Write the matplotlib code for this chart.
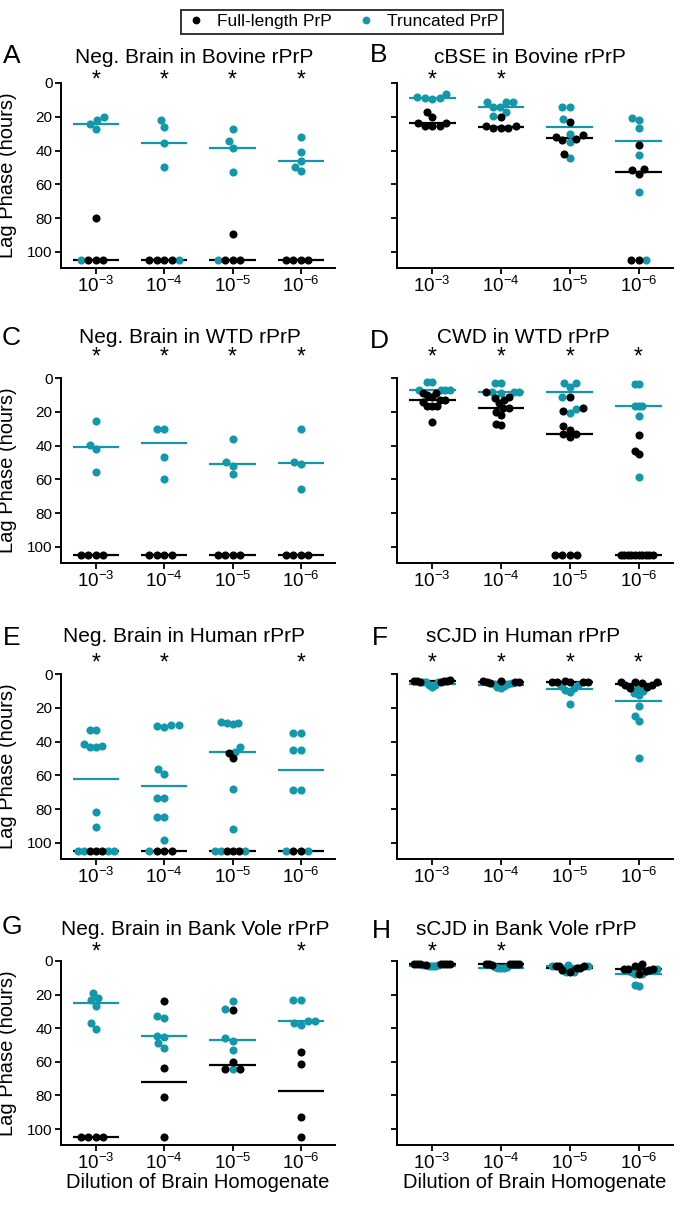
import numpy as np
import matplotlib.pyplot as plt
from matplotlib.lines import Line2D

plt.rcParams['font.family'] = ['Liberation Sans', 'DejaVu Sans']
plt.rcParams['mathtext.fontset'] = 'custom'
plt.rcParams['mathtext.rm'] = 'Liberation Sans'
plt.rcParams['mathtext.it'] = 'Liberation Sans:italic'
plt.rcParams['mathtext.default'] = 'regular'

ND = 105  # no lag phase reached within the run

dilutions = ['10$^{-3}$', '10$^{-4}$', '10$^{-5}$', '10$^{-6}$']
series_names = ['Full-length PrP', 'Truncated PrP']

titles = ['Neg. Brain in Bovine rPrP', 'cBSE in Bovine rPrP',
          'Neg. Brain in WTD rPrP', 'CWD in WTD rPrP',
          'Neg. Brain in Human rPrP', 'sCJD in Human rPrP',
          'Neg. Brain in Bank Vole rPrP', 'sCJD in Bank Vole rPrP']
letters = ['A', 'B', 'C', 'D', 'E', 'F', 'G', 'H']

# lag phase (hours), one list per dilution
a_full = [[80, ND, ND, ND], [ND, ND, ND, ND], [89.5, ND, ND, ND], [ND, ND, ND, ND]]
a_trunc = [[22, 20, 27, 24, ND], [22, 26, 35.5, 50, ND], [34.5, 27.5, 38.5, 52.5, ND],
           [32, 41, 49.5, 52, 46]]
a_stars = [1, 1, 1, 1]

b_full = [[17, 20, 23.5, 23.5, 25.5, 25.5, 25.5], [20, 25.5, 26.5, 26.5, 26.5, 25.5],
          [23, 31, 32, 33, 34, 42], [36.5, 51, 51.5, 54, ND, ND]]
b_trunc = [[6.5, 9, 9, 9.5, 8.5], [11.5, 11.5, 11.5, 14.5, 14.5, 17, 19.5],
           [14.5, 14.5, 21.5, 30, 35, 44.5], [20.5, 22, 26.5, 42.5, 64.5, ND]]
b_stars = [1, 1, 0, 0]

c_full = [[ND, ND, ND, ND], [ND, ND, ND, ND], [ND, ND, ND, ND], [ND, ND, ND, ND]]
c_trunc = [[25.5, 42, 39.5, 55.5], [30, 30, 46.5, 59.5], [36, 52, 49.5, 57], [30, 51, 50, 65.5]]
c_stars = [1, 1, 1, 1]

d_full = [[9, 9, 10, 11, 13, 13, 14, 16.5, 16.5, 16.5, 26],
          [8, 11, 12, 13, 15, 17.5, 18, 20, 22, 27, 28],
          [11.5, 17.5, 19.5, 28.5, 30.5, 33, 33, 35, ND, ND, ND, ND],
          [33.5, 45, 43.5, ND, ND, ND, ND, ND, ND, ND, ND, ND, ND]]
d_trunc = [[2.5, 2.5, 7, 7, 7, 7], [3, 3, 8, 8.5, 8.5, 9], [3, 3, 5.5, 11, 18.5, 21],
           [3.5, 3.5, 16.5, 16.5, 16.5, 22.5, 58.5]]
d_stars = [1, 1, 1, 1]

e_full = [[ND, ND, ND], [ND, ND, ND], [46.5, 50, ND, ND, ND], [ND, ND]]
e_trunc = [[33, 33, 41.5, 42.5, 43, 43, 81.5, 90.5, ND, ND, ND, ND],
           [30, 30, 31, 31.5, 56.5, 59, 73.5, 73.5, 84.5, 84.5, 98, ND],
           [28.5, 29, 29, 29.5, 43, 46, 68, 91.5, ND, ND, ND],
           [35, 35, 45, 45, 68.5, 68.5, ND, ND]]
e_stars = [1, 1, 0, 1]

f_full = [[3.5, 4, 4, 4, 4.5, 4, 4.5], [5, 4, 4, 4.5, 4.5, 5.5], [5, 5, 4, 4.5, 5, 4.5],
          [6.5, 5, 4.5, 6.5, 5.5, 8.5, 7.5, 5]]
f_trunc = [[5, 5, 6.5, 7.5, 6.5, 5], [7, 8.5, 7.5, 6, 6, 5.5], [9.5, 10.5, 8.5, 17.5, 7, 6.5],
           [8, 10, 11, 12.5, 19, 25, 28, 49.5]]
f_stars = [1, 1, 1, 1]

g_full = [[ND, ND, ND, ND], [24, 63.5, 81, ND], [29, 60, 64, 64], [54, 61.5, 93, ND]]
g_trunc = [[22, 19, 23.5, 27, 37, 40.5], [33, 34, 44.5, 45, 49, 51.5],
           [24, 28.5, 46, 47.5, 53, 64.5], [23, 23, 36, 37, 36, 38]]
g_stars = [1, 0, 0, 1]

h_full = [[1.5, 2, 2, 2, 2, 2, 2.5, 2], [2, 2, 2, 2.5, 2, 2, 2], [3, 4, 3, 5.5, 6.5, 3, 4],
          [3, 5.5, 8, 4.5, 2, 4.5, 3.5, 6, 5]]
h_trunc = [[2.5, 3, 3, 3, 2.5], [3.5, 4, 4, 3.5, 4], [2.5, 6.5, 3, 6.5, 3],
           [7.5, 15, 14, 4.5, 7.5, 6.5]]
h_stars = [1, 1, 0, 0]

panels = [(a_full, a_trunc, a_stars), (b_full, b_trunc, b_stars),
          (c_full, c_trunc, c_stars), (d_full, d_trunc, d_stars),
          (e_full, e_trunc, e_stars), (f_full, f_trunc, f_stars),
          (g_full, g_trunc, g_stars), (h_full, h_trunc, h_stars)]

BLACK = '#000000'
TEAL = '#1397aa'

W, H = 680, 1207
fig = plt.figure(figsize=(W / 100, H / 100), dpi=100)


def fy(px):
    return 1 - px / H


# layout in pixels
col_x = [(61, 335), (397, 673)]
row_y = [(83, 268), (378, 563), (674, 859), (961, 1145)]
title_base = [63, 343, 642, 935]
star_mid = [80, 357, 663, 952]
title_x = [194, 530, 190, 523, 184, 523, 195, 526]
letter_pos = [(3, 63), (370, 62), (2, 345), (370, 348), (3, 645), (372, 645), (2, 934), (372, 938)]


def swarm(ypix, dmin=7.5, half_max=18.0):
    # simple beeswarm in pixel space, squeezed if a group gets too wide
    xs = np.zeros(len(ypix))
    placed = []
    for i in np.argsort(ypix, kind='stable'):
        y = ypix[i]
        cands = [0.0]
        for px, py in placed:
            dy = abs(py - y)
            if dy < dmin:
                dx = np.sqrt(dmin ** 2 - dy ** 2)
                cands += [px - dx, px + dx]
        cands.sort(key=lambda c: (abs(c), c))
        for c in cands:
            if all((c - px) ** 2 + (y - py) ** 2 >= dmin ** 2 - 1e-6 for px, py in placed):
                xs[i] = c
                break
        placed.append((xs[i], y))
    widest = np.abs(xs).max()
    if widest > half_max:
        xs *= half_max / widest
    return xs


for k, (full, trunc, stars) in enumerate(panels):
    r, c = divmod(k, 2)
    x0, x1 = col_x[c]
    y0, y1 = row_y[r]
    ax = fig.add_axes([x0 / W, fy(y1), (x1 - x0) / W, (y1 - y0) / H])
    ax.set_xlim(-0.51, 3.5)
    ax.set_ylim(109.5, 0)
    unit = ax.transData.transform([(1, 0)])[0, 0] - ax.transData.transform([(0, 0)])[0, 0]

    for i in range(4):
        vals = np.array(full[i] + trunc[i], dtype=float)
        n_full = len(full[i])
        pix = ax.transData.transform(np.column_stack([np.full(len(vals), i), vals]))
        xs = i + swarm(pix[:, 1]) / unit

        ax.hlines(np.median(trunc[i]), i - 0.34, i + 0.34, color=TEAL, lw=1.6, zorder=2)
        ax.hlines(np.median(full[i]), i - 0.34, i + 0.34, color=BLACK, lw=1.6, zorder=2)
        ax.scatter(xs[n_full:], vals[n_full:], s=34, color=TEAL, lw=0, zorder=3, clip_on=False)
        ax.scatter(xs[:n_full], vals[:n_full], s=34, color=BLACK, lw=0, zorder=4, clip_on=False)

        if stars[i]:
            ax.annotate('*', xy=(i, 1 + (y0 - star_mid[r]) / (y1 - y0)),
                        xycoords=('data', 'axes fraction'), ha='center',
                        va='center', fontsize=16.5, annotation_clip=False)

    for s in ['top', 'right']:
        ax.spines[s].set_visible(False)
    for s in ['left', 'bottom']:
        ax.spines[s].set_linewidth(1.4)
    ax.set_xticks(range(4))
    ax.set_xticklabels(dilutions, fontsize=13.5)
    ax.set_yticks(range(0, 101, 20))
    ax.tick_params(axis='both', direction='out', length=4.5, width=1.3, pad=1.5)
    ax.tick_params(axis='y', labelsize=11)
    if c == 1:
        ax.set_yticklabels([])

    fig.text(title_x[k] / W, fy(title_base[r]), titles[k], ha='center', va='baseline', fontsize=15)
    lx, ly = letter_pos[k]
    fig.text(lx / W, fy(ly), letters[k], ha='left', va='baseline', fontsize=19)

    if c == 0:
        fig.text(8 / W, fy((y0 + y1) / 2), 'Lag Phase (hours)', rotation=90,
                 ha='center', va='center', fontsize=14.5)
    if r == 3:
        fig.text((x0 + x1) / 2 / W, fy(1183), 'Dilution of Brain Homogenate',
                 ha='center', va='center', fontsize=14.5)

handles = [Line2D([], [], ls='', marker='o', markersize=5.6, color=BLACK, mew=0),
           Line2D([], [], ls='', marker='o', markersize=5.6, color=TEAL, mew=0)]
leg = fig.legend(handles, series_names, loc='upper center', ncol=2,
                 bbox_to_anchor=(342 / W, fy(1)), fontsize=12.5, frameon=True,
                 fancybox=False, edgecolor='black', borderpad=0.25, handletextpad=0.6,
                 columnspacing=1.4, handlelength=1.2)
leg.get_frame().set_linewidth(1.4)

fig.savefig('out.png', dpi=100)
